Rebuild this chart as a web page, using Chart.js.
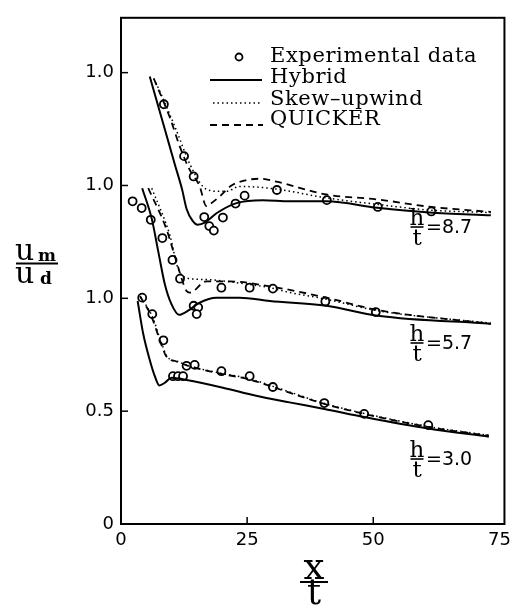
<!DOCTYPE html>
<html><head><meta charset="utf-8">
<script src="https://cdn.jsdelivr.net/npm/chart.js@4"></script>
<style>html,body{margin:0;padding:0;background:#fff}canvas{display:block}</style>
</head><body>
<canvas id="c" width="517" height="612"></canvas>
<script>
// ---- axis ticks ----
const xTicks = [0, 25, 50, 75];
const yTicks = [0, 0.5, 1.0, 1.5, 2.0];
const yTickLabels = ['0', '0.5', '1.0', '1.0', '1.0'];

// ---- cases (h/t) and their vertical offsets on the plot ----
const caseLabels = ['8.7', '5.7', '3.0'];
const caseOffsets = [1.0, 0.5, 0.0];

// ---- h/t = 8.7 ----
const expX87 = [8.5, 12.5, 14.4, 16.5, 17.5, 18.4, 20.2, 22.7, 24.5, 30.9, 40.8, 50.9, 61.5];
const expY87 = [0.86, 0.63, 0.54, 0.36, 0.32, 0.30, 0.358, 0.42, 0.455, 0.48, 0.435, 0.405, 0.385];
const hybX87 = [5.7, 8.7, 10.7, 12.1, 13.0, 14.2, 15.2, 16.6, 19.0, 22.9, 28.1, 33.4, 40.7, 50.8, 61.1, 73.3];
const hybY87 = [0.983, 0.748, 0.591, 0.483, 0.396, 0.343, 0.326, 0.335, 0.378, 0.422, 0.435, 0.430, 0.430, 0.401, 0.380, 0.368];
const skwX87 = [6.5, 7.7, 11.0, 13.6, 16.2, 17.6, 18.9, 20.9, 23.5, 30.8, 40.7, 50.9, 61.1, 73.3];
const skwY87 = [0.974, 0.917, 0.743, 0.597, 0.496, 0.478, 0.474, 0.474, 0.496, 0.484, 0.445, 0.416, 0.391, 0.380];
const qckX87 = [6.5, 9.7, 11.7, 13.6, 15.6, 16.9, 17.6, 19.6, 21.9, 24.5, 27.5, 30.8, 40.7, 50.9, 61.1, 73.3];
const qckY87 = [0.974, 0.80, 0.67, 0.57, 0.496, 0.409, 0.417, 0.452, 0.50, 0.522, 0.530, 0.517, 0.46, 0.438, 0.406, 0.383];

// ---- h/t = 5.7 ----
const expX57 = [2.3, 4.1, 5.9, 8.2, 10.2, 11.7, 14.4, 15.3, 15.0, 19.9, 25.5, 30.1, 40.5, 50.5];
const expY57 = [0.93, 0.90, 0.848, 0.767, 0.67, 0.587, 0.467, 0.46, 0.43, 0.547, 0.547, 0.543, 0.486, 0.439];
const hybX57 = [4.2, 6.1, 7.4, 8.7, 10.0, 11.5, 13.3, 15.6, 18.9, 23.5, 29.5, 40.7, 50.9, 73.3];
const hybY57 = [0.988, 0.852, 0.706, 0.561, 0.474, 0.427, 0.445, 0.481, 0.503, 0.503, 0.488, 0.467, 0.423, 0.387];
const skwX57 = [6.1, 9.7, 11.3, 13.0, 16.9, 25.5, 29.5, 33.4, 40.7, 50.9, 73.3];
const skwY57 = [0.988, 0.778, 0.633, 0.59, 0.583, 0.561, 0.547, 0.526, 0.496, 0.445, 0.39];
const qckX57 = [5.4, 9.0, 11.0, 13.0, 13.6, 16.9, 21.5, 29.5, 40.7, 50.9, 73.3];
const qckY57 = [0.988, 0.807, 0.662, 0.532, 0.525, 0.575, 0.575, 0.553, 0.503, 0.448, 0.387];

// ---- h/t = 3.0 ----
const expX30 = [4.2, 6.2, 8.4, 10.3, 11.3, 12.3, 13.0, 14.6, 19.9, 25.5, 30.1, 40.3, 48.2, 60.9];
const expY30 = [1.003, 0.93, 0.814, 0.655, 0.655, 0.655, 0.701, 0.705, 0.677, 0.655, 0.607, 0.536, 0.488, 0.438];
const hybX30 = [3.3, 4.4, 5.7, 6.7, 7.6, 8.7, 10.0, 13.0, 20.2, 26.8, 33.4, 40.3, 48.2, 60.9, 72.9];
const hybY30 = [0.988, 0.843, 0.727, 0.655, 0.614, 0.626, 0.648, 0.638, 0.604, 0.568, 0.539, 0.51, 0.474, 0.423, 0.387];
const skwX30 = [3.9, 6.2, 7.9, 9.2, 11.2, 13.6, 18.9, 25.5, 33.4, 40.3, 48.2, 60.9, 72.9];
const skwY30 = [1.005, 0.92, 0.81, 0.74, 0.72, 0.70, 0.672, 0.643, 0.585, 0.534, 0.49, 0.432, 0.393];
const qckX30 = [3.75, 6.1, 7.7, 9.0, 11.0, 13.6, 18.9, 25.5, 33.4, 40.3, 48.2, 60.9, 72.9];
const qckY30 = [1.01, 0.916, 0.814, 0.742, 0.72, 0.699, 0.67, 0.64, 0.582, 0.532, 0.488, 0.43, 0.391];

const seriesNames = ['Experimental data', 'Hybrid', 'Skew\u2013upwind', 'QUICKER'];

// ---------------------------------------------------------------
function pts(xs, ys, off) { return xs.map((v, i) => ({ x: v, y: ys[i] + off })); }

const caseData = [
  [expX87, expY87, hybX87, hybY87, skwX87, skwY87, qckX87, qckY87],
  [expX57, expY57, hybX57, hybY57, skwX57, skwY57, qckX57, qckY57],
  [expX30, expY30, hybX30, hybY30, skwX30, skwY30, qckX30, qckY30]
];

const lineStyle = {
  hyb: { borderWidth: 2, borderDash: [] },
  skw: { borderWidth: 1.5, borderDash: [1.5, 3] },
  qck: { borderWidth: 1.8, borderDash: [7, 5] }
};

const datasets = [];
caseData.forEach((c, k) => {
  const off = caseOffsets[k];
  const base = { showLine: true, pointRadius: 0, borderColor: '#000', fill: false, cubicInterpolationMode: 'monotone' };
  datasets.push(Object.assign({}, base, { label: seriesNames[1], data: pts(c[2], c[3], off) }, lineStyle.hyb));
  datasets.push(Object.assign({}, base, { label: seriesNames[2], data: pts(c[4], c[5], off) }, lineStyle.skw));
  datasets.push(Object.assign({}, base, { label: seriesNames[3], data: pts(c[6], c[7], off) }, lineStyle.qck));
  datasets.push({ label: seriesNames[0], data: pts(c[0], c[1], off), showLine: false,
    pointRadius: 4, pointBorderWidth: 1.8, pointBorderColor: '#000', pointBackgroundColor: '#fff', borderColor: '#000' });
});

function seg(ctx, x1, y1, x2, y2) { ctx.beginPath(); ctx.moveTo(x1, y1); ctx.lineTo(x2, y2); ctx.stroke(); }

const overlay = {
  id: 'overlay',
  afterDraw(chart) {
    const { ctx, chartArea: a, scales: { x, y } } = chart;
    ctx.save();
    ctx.strokeStyle = '#000'; ctx.fillStyle = '#000';
    // frame
    ctx.lineWidth = 2;
    ctx.strokeRect(a.left, a.top, a.right - a.left, a.bottom - a.top);
    // inward tick marks
    ctx.lineWidth = 1.5;
    yTicks.forEach(v => { if (v === 0) return; const py = y.getPixelForValue(v); seg(ctx, a.left, py, a.left + 7, py); });
    xTicks.forEach(v => { if (v === 0 || v === 75) return; const px = x.getPixelForValue(v); seg(ctx, px, a.bottom, px, a.bottom - 7); });

    // legend
    const lx1 = 210, lx2 = 262, tx = 270;
    const rows = [61.7, 83.3, 105, 125];
    ctx.font = '21px "DejaVu Serif"';
    if ('letterSpacing' in ctx) ctx.letterSpacing = '0.6px';
    ctx.textAlign = 'left'; ctx.textBaseline = 'alphabetic';
    rows.forEach((b, i) => ctx.fillText(seriesNames[i], tx, b));
    if ('letterSpacing' in ctx) ctx.letterSpacing = '0px';
    ctx.lineWidth = 1.8;
    ctx.beginPath(); ctx.arc(239, 57, 3.5, 0, Math.PI * 2); ctx.stroke();
    ctx.setLineDash([]); ctx.lineWidth = 2; seg(ctx, lx1, 80, lx2, 80);
    ctx.setLineDash([1.5, 3]); ctx.lineWidth = 1.5; seg(ctx, lx1 + 3, 103, lx2, 103);
    ctx.setLineDash([7, 5]); ctx.lineWidth = 1.8; seg(ctx, lx1, 125, lx2 + 1, 125);
    ctx.setLineDash([]);

    // h/t labels
    const labelBars = [227, 343, 459];
    labelBars.forEach((by, i) => {
      const cx = 417;
      ctx.textAlign = 'center'; ctx.textBaseline = 'alphabetic';
      ctx.font = '23px "DejaVu Serif"';
      ctx.fillText('h', cx, by - 2);
      ctx.fillText('t', cx, by + 18);
      ctx.lineWidth = 1.6; seg(ctx, cx - 6.5, by, cx + 6.5, by);
      ctx.textAlign = 'left'; ctx.textBaseline = 'middle';
      ctx.font = '19px "DejaVu Sans"';
      ctx.fillText('=' + caseLabels[i], 426, by + 1);
    });

    // y title  u_m / u_d
    ctx.textAlign = 'left'; ctx.textBaseline = 'alphabetic';
    ctx.font = '30px "DejaVu Serif"';
    ctx.fillText('u', 15, 260);
    ctx.fillText('u', 15, 283);
    ctx.font = 'bold 17px "DejaVu Serif"';
    ctx.fillText('m', 38, 261);
    ctx.fillText('d', 40, 284);
    ctx.lineWidth = 2; seg(ctx, 16, 263.5, 58, 263.5);

    // x title  x / t
    ctx.textAlign = 'center';
    ctx.font = '37px "DejaVu Serif"';
    ctx.fillText('x', 314, 579);
    ctx.font = '35px "DejaVu Serif"';
    ctx.fillText('t', 314, 604);
    ctx.lineWidth = 2; seg(ctx, 300, 582, 328, 582);
    ctx.restore();
  }
};

new Chart(document.getElementById('c'), {
  type: 'scatter',
  data: { datasets },
  options: {
    responsive: false, animation: false, devicePixelRatio: 1,
    layout: { padding: { top: 8, right: 11, left: 0, bottom: 0 } },
    plugins: { legend: { display: false }, tooltip: { enabled: false } },
    scales: {
      x: {
        type: 'linear', min: 0, max: 76,
        afterBuildTicks: s => { s.ticks = xTicks.map(v => ({ value: v })); },
        afterFit: s => { s.height = 88; },
        grid: { display: false, drawTicks: false }, border: { display: false },
        ticks: { font: { family: 'DejaVu Sans', size: 18 }, color: '#000', padding: 6, maxRotation: 0,
          callback: v => String(v) }
      },
      y: {
        type: 'linear', min: 0, max: 2.243,
        afterBuildTicks: s => { s.ticks = yTicks.map(v => ({ value: v })); },
        afterFit: s => { s.width = 121; },
        grid: { display: false, drawTicks: false }, border: { display: false },
        ticks: { font: { family: 'DejaVu Sans', size: 18 }, color: '#000', padding: 7,
          callback: (v) => { const i = yTicks.indexOf(v); return i >= 0 ? yTickLabels[i] : ''; } }
      }
    }
  },
  plugins: [overlay]
});
</script>
</body></html>
